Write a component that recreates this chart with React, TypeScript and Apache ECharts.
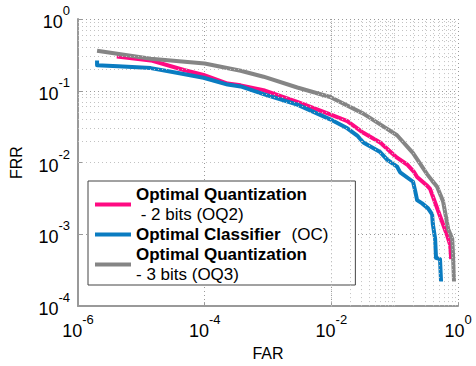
import React, { useEffect, useRef } from "react";
import * as echarts from "echarts";

// ---- data ----
const seriesNames = [
  "Optimal Quantization - 2 bits (OQ2)",
  "Optimal Classifier (OC)",
  "Optimal Quantization - 3 bits (OQ3)",
];

const oq2FAR = [4.1e-6, 1.41e-5, 4.7e-5, 9.6e-5, 2.3e-4, 3.7e-4, 8.5e-4, 2.9e-3, 9.6e-3, 0.0179, 0.032, 0.059, 0.109, 0.157, 0.2, 0.226, 0.33, 0.362, 0.4, 0.52, 0.67, 0.75, 0.78];
const oq2FRR = [0.3, 0.265, 0.195, 0.166, 0.126, 0.119, 0.102, 0.07, 0.047, 0.0378, 0.026, 0.019, 0.0117, 0.0094, 0.0075, 0.0063, 0.0047, 0.0043, 0.0034, 0.0018, 0.00098, 0.00072, 0.00045];

const ocFAR = [2.0e-6, 2.0e-6, 4.3e-6, 1.41e-5, 3.8e-5, 9.6e-5, 2.3e-4, 3.7e-4, 8.5e-4, 2.9e-3, 9.6e-3, 0.0179, 0.0256, 0.032, 0.059, 0.076, 0.109, 0.122, 0.195, 0.21, 0.226, 0.271, 0.337, 0.39, 0.4, 0.435, 0.45, 0.52, 0.54];
const ocFRR = [0.265, 0.227, 0.22, 0.207, 0.177, 0.152, 0.122, 0.115, 0.09, 0.064, 0.04, 0.03, 0.0238, 0.019, 0.014, 0.011, 0.0088, 0.0073, 0.0054, 0.0041, 0.003, 0.0027, 0.0023, 0.0019, 0.0014, 0.00087, 0.00047, 0.00045, 0.00022];

const oq3FAR = [2.0e-6, 1.41e-5, 1.0e-4, 3.7e-4, 8.5e-4, 2.9e-3, 9.6e-3, 0.032, 0.059, 0.109, 0.195, 0.325, 0.39, 0.467, 0.58, 0.7, 0.81, 0.83, 0.865];
const oq3FRR = [0.36, 0.28, 0.24, 0.19, 0.157, 0.111, 0.082, 0.048, 0.034, 0.024, 0.0135, 0.0069, 0.0056, 0.0046, 0.0029, 0.00119, 0.00087, 0.00058, 0.00022];

const xMin = 1e-6;
const xMax = 1;
const yMin = 1e-4;
const yMax = 1;

const colors = ["#FF0A82", "#0A7CC1", "#858585"];

const FONT = "'Liberation Sans', Arial, Helvetica, sans-serif";

function minorValues(lo: number, hi: number, withOddDecades: boolean): number[] {
  const out: number[] = [];
  const e0 = Math.round(Math.log10(lo));
  const e1 = Math.round(Math.log10(hi));
  for (let e = e0; e < e1; e++) {
    for (let k = 2; k <= 9; k++) out.push(k * Math.pow(10, e));
    if (withOddDecades && e > e0 && (e - e0) % 2 === 1) out.push(Math.pow(10, e));
  }
  return out;
}

const zip = (a: number[], b: number[]) => a.map((v, i) => [v, b[i]]);

const labelRich = {
  b: { fontFamily: FONT, fontSize: 18, color: "#000", lineHeight: 27, verticalAlign: "bottom" },
  s: { fontFamily: FONT, fontSize: 13, color: "#000", lineHeight: 15, verticalAlign: "top" },
};
const expFormatter = (v: number) => `{b|10}{s|${Math.round(Math.log10(v))}}`;

export default function App() {
  const ref = useRef<HTMLDivElement>(null);
  useEffect(() => {
    if (!ref.current) return;
    const chart = echarts.init(ref.current, null, { renderer: "svg" });
    const majorGrid = { type: [1, 3] as any, color: "#9a9a9a", width: 1 };
    const minorGrid = { type: [1, 3] as any, color: "#c2c2c2", width: 1 };
    const option: any = {
      animation: false,
      backgroundColor: "#fff",
      grid: { left: 77, top: 19, right: 18, bottom: 49, containLabel: false },
      xAxis: {
        type: "log",
        logBase: 10,
        min: xMin,
        max: xMax,
        interval: 2,
        splitNumber: 3,
        name: "FAR",
        nameLocation: "middle",
        nameGap: 37,
        nameTextStyle: { fontFamily: FONT, fontSize: 16, color: "#000" },
        axisLine: { show: true, lineStyle: { color: "#999", width: 2 } },
        axisTick: { show: true, inside: true, length: 4, lineStyle: { color: "#999" } },
        axisLabel: { formatter: expFormatter, rich: labelRich, margin: 7 },
        splitLine: { show: true, lineStyle: majorGrid },
      },
      yAxis: {
        type: "log",
        logBase: 10,
        min: yMin,
        max: yMax,
        interval: 1,
        splitNumber: 4,
        name: "FRR",
        nameLocation: "middle",
        nameRotate: 90,
        nameGap: 48,
        nameTextStyle: { fontFamily: FONT, fontSize: 16, color: "#000", padding: [0, 0, 6, 0] },
        axisLine: { show: true, lineStyle: { color: "#999", width: 2 } },
        axisTick: { show: true, inside: true, length: 4, lineStyle: { color: "#999" } },
        axisLabel: { formatter: expFormatter, rich: labelRich, margin: 8, padding: [0, 0, 3, 0] },
        splitLine: { show: true, lineStyle: majorGrid },
      },
      legend: {
        orient: "vertical",
        left: 88,
        top: 181,
        data: seriesNames,
        icon: "rect",
        itemWidth: 36,
        itemHeight: 4,
        itemGap: 3,
        padding: [5, 27, 2, 7],
        backgroundColor: "#fff",
        borderColor: "#444",
        borderWidth: 1,
        borderRadius: 0,
        selectedMode: false,
        textStyle: {
          rich: {
            b: { fontFamily: FONT, fontSize: 17, fontWeight: "bold", color: "#000", lineHeight: 20 },
            r: { fontFamily: FONT, fontSize: 17, color: "#000", lineHeight: 20 },
            g: { fontFamily: FONT, fontSize: 17, color: "#000", lineHeight: 20, padding: [0, 0, 0, 11] },
          },
        },
        formatter: (name: string) => {
          if (name === seriesNames[0]) return "{b|Optimal Quantization}\n{r| - 2 bits (OQ2)}";
          if (name === seriesNames[1]) return "{b|Optimal Classifier}{g|(OC)}";
          return "{b|Optimal Quantization}\n{r|- 3 bits (OQ3)}";
        },
      },
      series: [
        {
          name: "grid-minor",
          type: "line",
          data: [],
          z: 1,
          silent: true,
          markLine: {
            silent: true,
            symbol: ["none", "none"],
            label: { show: false },
            lineStyle: minorGrid,
            emphasis: { disabled: true },
            data: [
              ...minorValues(xMin, xMax, true).map((v) => ({ xAxis: v })),
              ...minorValues(yMin, yMax, false).map((v) => ({ yAxis: v })),
            ],
          },
        },
        ...[zip(oq2FAR, oq2FRR), zip(ocFAR, ocFRR), zip(oq3FAR, oq3FRR)].map((d, i) => ({
          name: seriesNames[i],
          type: "line",
          data: d,
          z: 3,
          showSymbol: false,
          symbol: "none",
          color: colors[i],
          lineStyle: { color: colors[i], width: 4, cap: "butt", join: "round" },
          emphasis: { disabled: true },
        })),
      ],
    };
    chart.setOption(option);
    return () => chart.dispose();
  }, []);
  return (
    <div
      ref={ref}
      style={{ position: "absolute", left: 0, top: 0, width: 476, height: 366 }}
    />
  );
}
